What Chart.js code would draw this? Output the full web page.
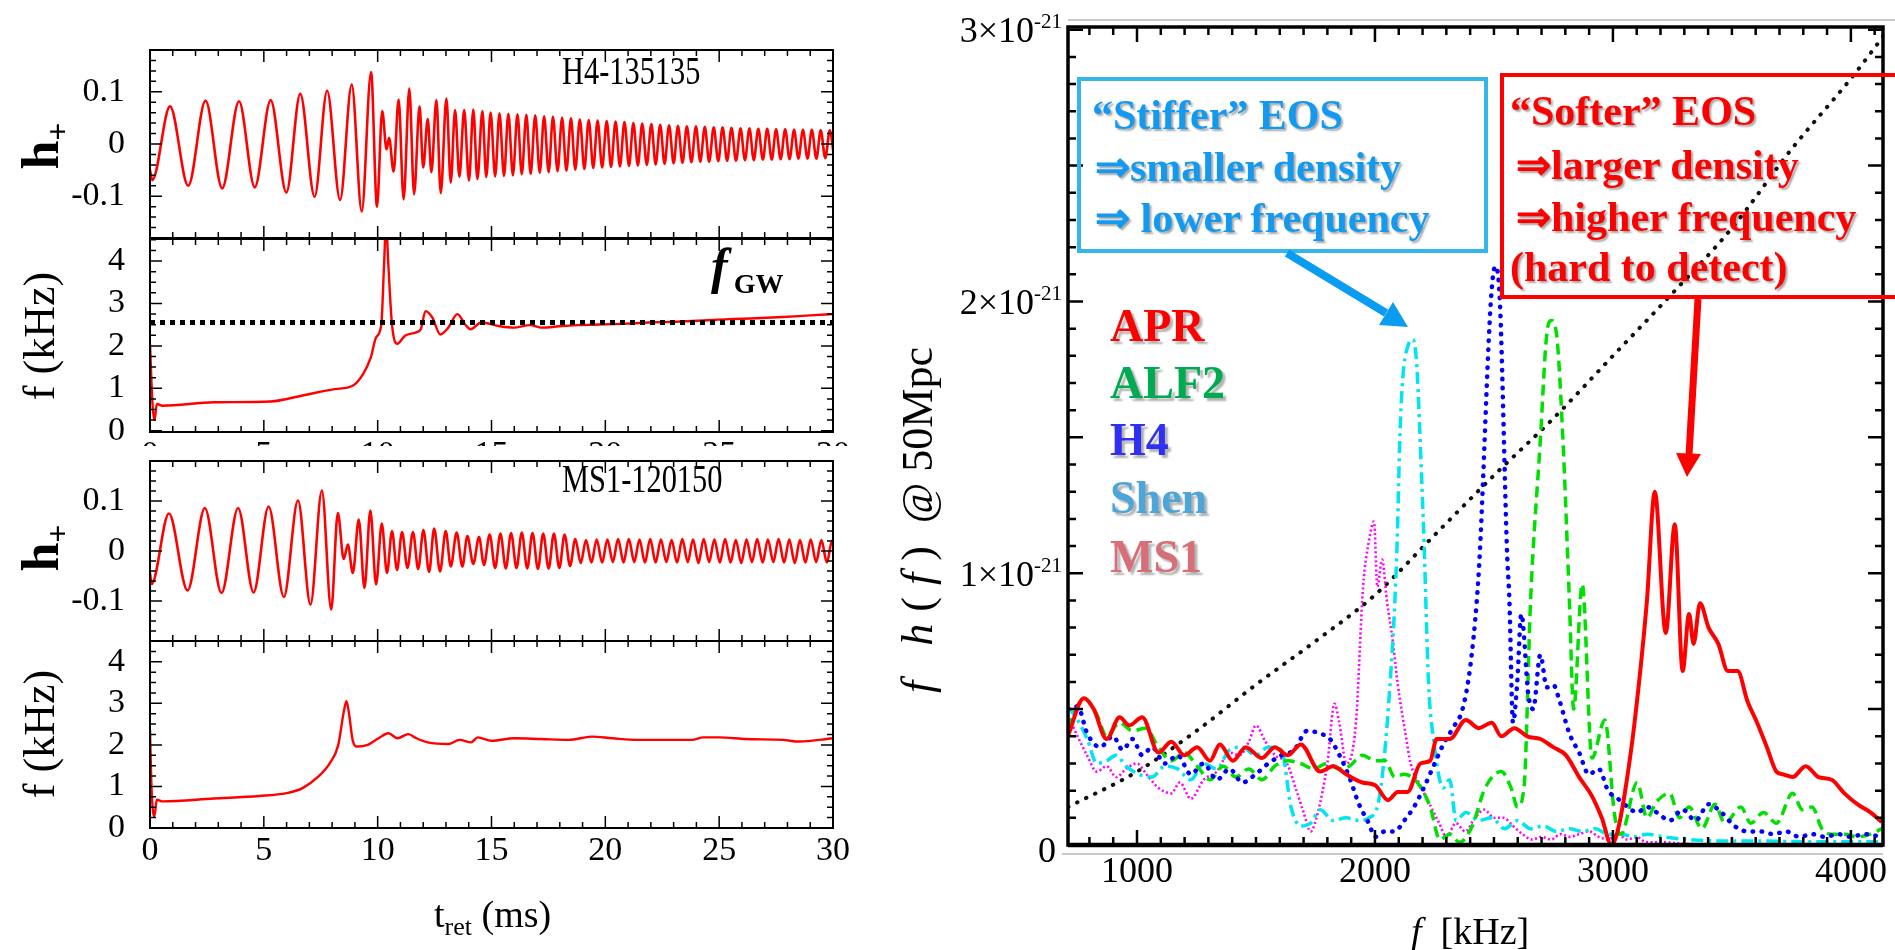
<!DOCTYPE html>
<html lang="en">
<head>
<meta charset="UTF-8">
<title>GW waveforms and spectra</title>
<script src="https://cdn.jsdelivr.net/npm/chart.js"></script>
<style>
  html, body { margin: 0; padding: 0; background: #fff; }
  body { width: 1895px; height: 950px; position: relative; overflow: hidden; font-family: "Liberation Serif", "Times New Roman", serif; }
  .panel { position: absolute; }
  .lbl { position: absolute; white-space: nowrap; line-height: 1; }
  .rot { transform: translate(-50%, -50%) rotate(-90deg); }
  .note { font-weight: bold; font-size: 42px; }
  .blue { color: #139af0; text-shadow: 2px 2px 2px rgba(0,0,0,0.35); }
  .red { color: #ff0000; text-shadow: 2px 2px 2px rgba(0,0,0,0.35); }
  .leg { font-weight: bold; font-size: 46px; text-shadow: 3px 3px 2px rgba(0,0,0,0.3); }
  sub { font-size: 0.6em; vertical-align: -0.3em; }
</style>
</head>
<body>

<div class="panel" style="left:0;top:0;width:850px;height:240px"><canvas id="p1"></canvas></div>
<div class="panel" style="left:0;top:236px;width:850px;height:230px"><canvas id="p2"></canvas></div>
<div class="panel" style="left:0;top:446px;width:850px;height:196px;background:#fff"><canvas id="p3"></canvas></div>
<div class="panel" style="left:0;top:636px;width:850px;height:314px"><canvas id="p4"></canvas></div>
<div class="panel" style="left:850px;top:0;width:1045px;height:950px"><canvas id="spec"></canvas></div>

<!-- left side titles -->
<div class="lbl rot" style="left:44px;top:146px;font-size:52px;font-weight:bold">h<sub style="font-size:32px">+</sub></div>
<div class="lbl rot" style="left:40px;top:336px;font-size:44px">f (kHz)</div>
<div class="lbl rot" style="left:44px;top:548px;font-size:52px;font-weight:bold">h<sub style="font-size:32px">+</sub></div>
<div class="lbl rot" style="left:40px;top:734px;font-size:44px">f (kHz)</div>
<div class="lbl" style="left:434px;top:895px;font-size:38px">t<sub style="font-size:26px">ret</sub> (ms)</div>
<div class="lbl" style="left:562px;top:51px;font-size:40px;transform:scaleX(0.76);transform-origin:0 0">H4-135135</div>
<div class="lbl" style="left:562px;top:459px;font-size:40px;transform:scaleX(0.76);transform-origin:0 0">MS1-120150</div>
<div class="lbl" style="left:711px;top:241px;font-size:50px;font-weight:bold;font-style:italic">f<span style="font-size:28px;font-style:normal;margin-left:6px;position:relative;top:10px">GW</span></div>

<!-- right side titles -->
<div class="lbl rot" style="left:918px;top:520px;font-size:44px"><span style="letter-spacing:12px"><i>f h</i>(<i>f</i>)</span> @ 50Mpc</div>
<div class="lbl" style="left:1411px;top:912px;font-size:38px"><i>f</i>&nbsp; [kHz]</div>

<div class="lbl leg" style="left:1110px;top:303px;color:#ff0000">APR</div>
<div class="lbl leg" style="left:1110px;top:360px;color:#00aa50">ALF2</div>
<div class="lbl leg" style="left:1110px;top:417px;color:#3030f0">H4</div>
<div class="lbl leg" style="left:1110px;top:475px;color:#4ea6d8">Shen</div>
<div class="lbl leg" style="left:1110px;top:534px;color:#d86e78">MS1</div>

<div style="position:absolute;left:1077px;top:77px;width:411px;height:176px;border:4px solid #35b6ea;box-sizing:border-box"></div>
<div class="lbl note blue" style="left:1092px;top:94px">“Stiffer” EOS</div>
<div class="lbl note blue" style="left:1095px;top:146px">⇒smaller density</div>
<div class="lbl note blue" style="left:1095px;top:197px">⇒ lower frequency</div>

<div style="position:absolute;left:1500px;top:73px;width:420px;height:226px;border:4px solid #ff0000;box-sizing:border-box"></div>
<div class="lbl note red" style="left:1510px;top:90px">“Softer” EOS</div>
<div class="lbl note red" style="left:1516px;top:144px">⇒larger density</div>
<div class="lbl note red" style="left:1516px;top:196px">⇒higher frequency</div>
<div class="lbl note red" style="left:1510px;top:246px">(hard to detect)</div>

<svg width="1895" height="950" style="position:absolute;left:0;top:0;pointer-events:none">
  <line x1="1287" y1="253" x2="1386" y2="313" stroke="#0a9cf0" stroke-width="8"/>
  <polygon points="1408,327 1379,325 1393,302" fill="#0a9cf0"/>
  <line x1="1698" y1="299" x2="1689" y2="455" stroke="#ff0000" stroke-width="7"/>
  <polygon points="1687,477 1676,453 1701,454" fill="#ff0000"/>
</svg>

<script>
// ---- data: time series (t in ms) ----
const timeTicks = [0, 5, 10, 15, 20, 25, 30];
const strainTicks = [-0.1, 0, 0.1];
const freqKHzTicks = [0, 1, 2, 3, 4];
const fGW = 2.55;

// H4-135135 h+ (extrema)
const h4Wave = [
  [0, -0.050], [0.10, -0.069], [0.88, 0.072], [1.68, -0.080], [2.44, 0.083], [3.17, -0.085],
  [3.91, 0.082], [4.60, -0.083], [5.30, 0.084], [5.99, -0.093], [6.60, 0.096], [7.23, -0.101],
  [7.78, 0.102], [8.35, -0.107], [8.86, 0.114], [9.30, -0.129], [9.71, 0.138], [9.97, -0.120],
  [10.20, 0.063], [10.39, -0.010], [10.50, 0.012], [10.70, -0.053], [10.92, 0.085], [11.14, -0.106],
  [11.39, 0.106], [11.60, -0.096], [11.84, 0.072], [12.00, -0.045], [12.20, 0.048], [12.36, -0.054],
  [12.58, 0.084], [12.77, -0.094], [13.02, 0.087], [13.21, -0.074], [13.40, 0.065], [13.59, -0.063],
  [13.80, 0.065], [14.01, -0.070], [14.20, 0.066], [14.38, -0.067], [14.60, 0.063], [14.77, -0.063],
  [14.96, 0.060], [15.16, -0.062], [15.35, 0.059], [15.55, -0.061], [15.74, 0.058], [15.94, -0.060],
  [16.14, 0.057], [16.33, -0.058], [16.53, 0.056], [16.72, -0.057], [16.92, 0.055], [17.12, -0.055],
  [17.31, 0.053], [17.51, -0.054], [17.70, 0.052], [17.90, -0.052], [18.10, 0.050], [18.29, -0.051],
  [18.49, 0.049], [18.68, -0.049], [18.88, 0.047], [19.08, -0.048], [19.27, 0.046], [19.47, -0.046],
  [19.66, 0.045], [19.86, -0.045], [20.06, 0.044], [20.25, -0.044], [20.45, 0.043], [20.64, -0.043],
  [20.84, 0.042], [21.04, -0.042], [21.23, 0.040], [21.43, -0.041], [21.62, 0.039], [21.82, -0.040],
  [22.02, 0.038], [22.21, -0.039], [22.41, 0.037], [22.60, -0.038], [22.80, 0.036], [23.00, -0.037],
  [23.19, 0.035], [23.39, -0.036], [23.58, 0.034], [23.78, -0.035], [23.98, 0.034], [24.17, -0.034],
  [24.37, 0.033], [24.56, -0.034], [24.76, 0.032], [24.96, -0.033], [25.15, 0.032], [25.35, -0.032],
  [25.54, 0.031], [25.74, -0.032], [25.94, 0.030], [26.13, -0.031], [26.33, 0.030], [26.52, -0.031],
  [26.72, 0.029], [26.92, -0.030], [27.11, 0.029], [27.31, -0.030], [27.50, 0.028], [27.70, -0.029],
  [27.90, 0.028], [28.09, -0.029], [28.29, 0.027], [28.48, -0.028], [28.68, 0.027], [28.88, -0.028],
  [29.07, 0.027], [29.27, -0.028], [29.46, 0.026], [29.66, -0.027], [29.86, 0.026], [30.05, -0.027]
];

// H4-135135 GW frequency (kHz)
const h4Freq = [
  [0, 2.05], [0.11, 0.63], [0.2, 0.25], [0.3, 0.63], [0.55, 0.59], [2.8, 0.67], [5.3, 0.69],
  [6.7, 0.83], [8.1, 0.98], [8.9, 1.06], [9.35, 1.33], [9.7, 1.73], [9.93, 2.2], [10.16, 2.5],
  [10.28, 3.9], [10.37, 4.9], [10.47, 3.9], [10.63, 2.5], [10.86, 2.05], [11.2, 2.24], [11.69, 2.32],
  [11.9, 2.4], [12.1, 2.82], [12.4, 2.67], [12.75, 2.27], [13.1, 2.43], [13.5, 2.75], [13.85, 2.5],
  [14.08, 2.39], [14.55, 2.55], [15.3, 2.47], [15.98, 2.43], [16.7, 2.49], [17.2, 2.43], [18.1, 2.47],
  [18.8, 2.49], [19.5, 2.5], [20.7, 2.52], [21.9, 2.55], [23.1, 2.57], [24.3, 2.6], [25.4, 2.63],
  [26.6, 2.65], [27.8, 2.68], [29.0, 2.72], [30, 2.75]
];

// MS1-120150 h+ (extrema)
const ms1Wave = [
  [0, -0.044], [0.07, -0.066], [0.83, 0.075], [1.65, -0.079], [2.41, 0.086], [3.14, -0.084],
  [3.87, 0.086], [4.55, -0.083], [5.21, 0.089], [5.88, -0.092], [6.50, 0.101], [7.05, -0.107],
  [7.55, 0.121], [7.96, -0.117], [8.25, 0.076], [8.51, -0.016], [8.69, 0.013], [8.91, -0.044],
  [9.17, 0.063], [9.42, -0.074], [9.68, 0.081], [9.93, -0.067], [10.18, 0.055], [10.41, -0.044],
  [10.63, 0.040], [10.85, -0.038], [11.07, 0.038], [11.31, -0.034], [11.55, 0.038], [11.78, -0.036],
  [12.01, 0.042], [12.26, -0.042], [12.48, 0.045], [12.74, -0.041], [12.99, 0.040], [13.21, -0.031],
  [13.47, 0.037], [13.72, -0.031], [13.94, 0.030], [14.20, -0.026], [14.45, 0.028], [14.67, -0.028],
  [14.92, 0.033], [15.16, -0.034], [15.39, 0.035], [15.63, -0.035], [15.86, 0.036], [16.10, -0.034],
  [16.33, 0.037], [16.57, -0.035], [16.80, 0.036], [17.04, -0.036], [17.27, 0.035], [17.51, -0.035],
  [17.74, 0.035], [17.98, -0.034], [18.21, 0.033], [18.45, -0.030], [18.68, 0.024], [18.92, -0.024],
  [19.15, 0.022], [19.39, -0.023], [19.62, 0.023], [19.86, -0.023], [20.09, 0.023], [20.33, -0.022],
  [20.56, 0.024], [20.80, -0.023], [21.03, 0.024], [21.27, -0.022], [21.50, 0.023], [21.74, -0.023],
  [21.97, 0.024], [22.21, -0.023], [22.44, 0.023], [22.68, -0.022], [22.91, 0.022], [23.15, -0.023],
  [23.38, 0.024], [23.62, -0.022], [23.85, 0.023], [24.09, -0.024], [24.32, 0.024], [24.56, -0.022],
  [24.79, 0.023], [25.03, -0.023], [25.26, 0.024], [25.50, -0.023], [25.73, 0.022], [25.97, -0.024],
  [26.20, 0.023], [26.44, -0.022], [26.67, 0.024], [26.91, -0.023], [27.14, 0.023], [27.38, -0.022],
  [27.61, 0.024], [27.85, -0.023], [28.08, 0.023], [28.32, -0.024], [28.55, 0.022], [28.79, -0.023],
  [29.02, 0.023], [29.26, -0.022], [29.49, 0.022], [29.73, -0.023], [29.96, 0.021], [30.10, 0.0]
];

// MS1-120150 GW frequency (kHz)
const ms1Freq = [
  [0, 2.36], [0.07, 0.92], [0.19, 0.28], [0.3, 0.68], [0.55, 0.64], [2.8, 0.71], [4.8, 0.77],
  [6.0, 0.84], [6.7, 0.96], [7.4, 1.24], [7.9, 1.56], [8.27, 2.0], [8.5, 2.76], [8.63, 3.05],
  [8.74, 2.76], [8.9, 2.12], [9.1, 1.96], [9.56, 2.0], [10.04, 2.16], [10.47, 2.28], [10.87, 2.16],
  [11.35, 2.26], [11.7, 2.16], [12.2, 2.06], [13.1, 2.02], [13.6, 2.12], [14.1, 2.06], [14.4, 2.18],
  [15.0, 2.1], [16.0, 2.16], [17.2, 2.14], [18.4, 2.12], [19.4, 2.2], [20.3, 2.16], [21.4, 2.12],
  [22.6, 2.12], [23.8, 2.12], [24.3, 2.18], [25.0, 2.18], [26.2, 2.14], [27.8, 2.12], [28.5, 2.08],
  [30, 2.16]
];

// ---- data: spectra, f [kHz] vs f h(f) in units of 1e-21 ----
const specFreqTicks = [1000, 2000, 3000, 4000];
const specAmpTicks = [0, 1, 2, 3];

const aprSpec = [
  [709, 0.40], [777, 0.54], [818, 0.50], [872, 0.39], [927, 0.47], [967, 0.44], [1022, 0.47],
  [1090, 0.34], [1144, 0.38], [1199, 0.33], [1253, 0.36], [1307, 0.31], [1348, 0.37], [1403, 0.31],
  [1457, 0.36], [1525, 0.32], [1579, 0.36], [1634, 0.33], [1688, 0.37], [1770, 0.27], [1824, 0.29],
  [1879, 0.26], [1947, 0.23], [2001, 0.22], [2055, 0.165], [2096, 0.195], [2137, 0.195], [2191, 0.30],
  [2232, 0.31], [2259, 0.39], [2314, 0.39], [2382, 0.46], [2436, 0.43], [2491, 0.45], [2531, 0.40],
  [2586, 0.43], [2640, 0.40], [2695, 0.39], [2749, 0.36], [2803, 0.33], [2858, 0.25], [2912, 0.18],
  [2953, 0.10], [2994, 0.0], [3021, 0.055], [3075, 0.34], [3116, 0.65], [3143, 0.90], [3176, 1.30],
  [3222, 0.78], [3260, 1.18], [3293, 0.64], [3320, 0.85], [3339, 0.74], [3366, 0.89], [3402, 0.80],
  [3443, 0.74], [3483, 0.64], [3524, 0.64], [3565, 0.53], [3606, 0.45], [3647, 0.36], [3687, 0.27],
  [3715, 0.26], [3755, 0.25], [3810, 0.29], [3864, 0.25], [3919, 0.24], [3973, 0.19], [4027, 0.15],
  [4082, 0.12], [4130, 0.085]
];

const alf2Spec = [
  [709, 0.43], [777, 0.54], [831, 0.48], [872, 0.40], [927, 0.45], [981, 0.42], [1035, 0.43],
  [1090, 0.36], [1144, 0.31], [1199, 0.34], [1253, 0.29], [1307, 0.24], [1362, 0.29], [1416, 0.25],
  [1470, 0.28], [1525, 0.24], [1579, 0.29], [1634, 0.31], [1688, 0.30], [1742, 0.28], [1797, 0.30],
  [1851, 0.28], [1892, 0.29], [1947, 0.33], [2001, 0.31], [2042, 0.31], [2083, 0.25], [2123, 0.26],
  [2178, 0.23], [2232, 0.14], [2273, 0.02], [2314, 0.04], [2355, 0.01], [2409, 0.07], [2463, 0.21],
  [2531, 0.27], [2572, 0.21], [2599, 0.14], [2627, 0.22], [2654, 0.90], [2695, 1.49], [2722, 1.88],
  [2741, 1.93], [2763, 1.88], [2790, 1.49], [2817, 0.90], [2835, 0.50], [2871, 0.96], [2912, 0.32],
  [2966, 0.46], [3007, 0.11], [3034, 0.04], [3102, 0.23], [3143, 0.10], [3184, 0.16], [3239, 0.19],
  [3279, 0.10], [3320, 0.14], [3374, 0.06], [3429, 0.15], [3470, 0.08], [3538, 0.14], [3579, 0.08],
  [3633, 0.12], [3687, 0.08], [3755, 0.19], [3796, 0.13], [3837, 0.14], [3878, 0.06], [3919, 0.04],
  [3973, 0.04], [4027, 0.03], [4082, 0.04], [4130, 0.06]
];

const h4Spec = [
  [709, 0.50], [750, 0.51], [791, 0.41], [845, 0.36], [899, 0.40], [940, 0.35], [981, 0.39],
  [1022, 0.33], [1063, 0.36], [1117, 0.30], [1171, 0.33], [1226, 0.26], [1280, 0.30], [1335, 0.24],
  [1389, 0.28], [1443, 0.23], [1498, 0.26], [1552, 0.30], [1607, 0.33], [1661, 0.35], [1715, 0.42],
  [1770, 0.41], [1811, 0.39], [1851, 0.33], [1892, 0.25], [1933, 0.15], [1974, 0.08], [2001, 0.03],
  [2042, 0.05], [2083, 0.05], [2123, 0.09], [2164, 0.14], [2205, 0.21], [2246, 0.29], [2287, 0.37],
  [2327, 0.43], [2368, 0.50], [2401, 0.66], [2428, 0.90], [2441, 1.08], [2487, 2.00], [2506, 2.13],
  [2525, 2.00], [2555, 1.08], [2565, 0.90], [2580, 0.45], [2598, 0.60], [2615, 0.85], [2645, 0.55],
  [2665, 0.50], [2695, 0.70], [2722, 0.58], [2749, 0.59], [2776, 0.53], [2817, 0.41], [2858, 0.34],
  [2899, 0.26], [2940, 0.28], [2980, 0.20], [3021, 0.17], [3062, 0.14], [3102, 0.12], [3143, 0.14],
  [3184, 0.12], [3239, 0.09], [3293, 0.13], [3347, 0.09], [3402, 0.15], [3456, 0.12], [3511, 0.07],
  [3565, 0.05], [3619, 0.05], [3674, 0.04], [3728, 0.05], [3783, 0.03], [3837, 0.04], [3892, 0.03],
  [3946, 0.04], [4000, 0.03], [4055, 0.04], [4130, 0.03]
];

const shenSpec = [
  [709, 0.51], [750, 0.46], [791, 0.39], [831, 0.30], [872, 0.31], [913, 0.33], [954, 0.29],
  [1008, 0.26], [1063, 0.25], [1117, 0.29], [1171, 0.28], [1226, 0.24], [1280, 0.30], [1335, 0.28],
  [1389, 0.35], [1443, 0.36], [1498, 0.33], [1552, 0.36], [1607, 0.35], [1647, 0.14], [1688, 0.07],
  [1729, 0.08], [1770, 0.13], [1824, 0.09], [1879, 0.10], [1933, 0.09], [1974, 0.10], [2015, 0.16],
  [2060, 0.55], [2092, 1.08], [2105, 1.51], [2117, 1.72], [2140, 1.84], [2160, 1.86], [2176, 1.76],
  [2197, 1.33], [2206, 1.12], [2225, 0.60], [2246, 0.39], [2287, 0.21], [2314, 0.24], [2341, 0.09],
  [2382, 0.12], [2436, 0.09], [2491, 0.10], [2545, 0.06], [2599, 0.09], [2654, 0.06], [2708, 0.07],
  [2763, 0.05], [2817, 0.06], [2871, 0.05], [2926, 0.06], [2980, 0.04], [3034, 0.04], [3089, 0.03],
  [3143, 0.04], [3211, 0.03], [3320, 0.02], [3450, 0.015], [3600, 0.015], [3800, 0.012], [4000, 0.012],
  [4130, 0.012]
];

const ms1Spec = [
  [709, 0.48], [750, 0.40], [790, 0.33], [831, 0.27], [872, 0.29], [913, 0.25], [954, 0.28],
  [1000, 0.30], [1040, 0.26], [1090, 0.21], [1144, 0.19], [1180, 0.23], [1226, 0.17], [1280, 0.24],
  [1335, 0.27], [1389, 0.34], [1430, 0.33], [1470, 0.38], [1500, 0.44], [1540, 0.38], [1580, 0.33],
  [1630, 0.30], [1670, 0.20], [1700, 0.12], [1730, 0.05], [1760, 0.12], [1800, 0.30], [1830, 0.52],
  [1850, 0.45], [1880, 0.30], [1920, 0.45], [1950, 0.95], [1975, 1.12], [1996, 1.19], [2010, 0.95],
  [2030, 1.05], [2050, 0.90], [2075, 0.75], [2096, 0.59], [2130, 0.40], [2150, 0.30], [2190, 0.22],
  [2230, 0.15], [2270, 0.08], [2300, 0.03], [2340, 0.08], [2380, 0.05], [2420, 0.10], [2460, 0.13],
  [2500, 0.10], [2540, 0.10], [2580, 0.07], [2620, 0.04], [2660, 0.02], [2700, 0.03], [2740, 0.02],
  [2780, 0.04], [2820, 0.03], [2860, 0.04], [2900, 0.05], [2940, 0.03], [2980, 0.02], [3020, 0.04],
  [3060, 0.02], [3100, 0.03], [3140, 0.01], [3200, 0.01], [3300, 0.005], [3400, 0.0]
];

// detector noise curve (black dotted)
const noiseCurve = [
  [710, 0.14], [1000, 0.27], [1250, 0.42], [1500, 0.59], [1750, 0.75], [2000, 0.92], [2250, 1.14],
  [2500, 1.36], [2750, 1.57], [3000, 1.80], [3250, 2.03], [3500, 2.27], [3750, 2.56], [4000, 2.82],
  [4140, 2.98]
];

// ---- helpers ----
function steps(scale, step) {
  const out = [];
  const n0 = Math.ceil(scale.min / step - 1e-6), n1 = Math.floor(scale.max / step + 1e-6);
  for (let k = n0; k <= n1; k++) out.push(+(k * step).toFixed(6));
  return out;
}
function isMajor(v, major) {
  const r = v / major;
  return Math.abs(r - Math.round(r)) < 1e-6;
}

// frame with inward ticks on all four sides, plus tick labels
function framePlugin(cfg) {
  return {
    id: 'frame',
    afterDatasetsDraw(chart) {
      const ctx = chart.ctx, a = chart.chartArea;
      const sx = chart.scales.x, sy = chart.scales.y;
      ctx.save();
      ctx.strokeStyle = '#000';
      ctx.lineWidth = cfg.tickWidth;
      ctx.beginPath();
      steps(sx, cfg.xMinor).forEach(v => {
        const px = sx.getPixelForValue(v);
        const len = isMajor(v, cfg.xMajor) ? cfg.majorLen : cfg.minorLen;
        ctx.moveTo(px, a.bottom); ctx.lineTo(px, a.bottom - len);
        ctx.moveTo(px, a.top); ctx.lineTo(px, a.top + len);
      });
      steps(sy, cfg.yMinor).forEach(v => {
        const py = sy.getPixelForValue(v);
        const len = isMajor(v, cfg.yMajor) ? cfg.majorLen : cfg.minorLen;
        ctx.moveTo(a.left, py); ctx.lineTo(a.left + len, py);
        ctx.moveTo(a.right, py); ctx.lineTo(a.right - len, py);
      });
      ctx.stroke();
      ctx.lineWidth = cfg.frameWidth;
      ctx.strokeRect(a.left, a.top, a.right - a.left, a.bottom - a.top);
      if (cfg.extra) cfg.extra(ctx, a, chart);

      ctx.fillStyle = '#000';
      ctx.font = cfg.font;
      ctx.textBaseline = 'middle';
      ctx.textAlign = 'center';
      cfg.xLabels.forEach(v => ctx.fillText(String(v), sx.getPixelForValue(v), a.bottom + cfg.xGap));
      ctx.textAlign = 'right';
      cfg.yLabels.forEach(v => {
        const py = sy.getPixelForValue(v);
        if (cfg.yLabelDraw) cfg.yLabelDraw(ctx, a, v, py);
        else ctx.fillText(String(v), a.left - cfg.yGap, py);
      });
      ctx.restore();
    }
  };
}

function series(points, color, width, dash, cap) {
  return {
    data: points.map(p => ({ x: p[0], y: p[1] })),
    borderColor: color,
    borderWidth: width,
    borderDash: dash || [],
    borderCapStyle: cap || 'butt',
    borderJoinStyle: 'round',
    pointRadius: 0,
    fill: false,
    cubicInterpolationMode: 'monotone'
  };
}

function makeChart(id, datasets, xr, yr, pad, frame) {
  return new Chart(document.getElementById(id), {
    type: 'line',
    data: { datasets },
    options: {
      responsive: true,
      maintainAspectRatio: false,
      animation: false,
      devicePixelRatio: 1,
      layout: { padding: pad },
      plugins: { legend: { display: false }, tooltip: { enabled: false } },
      scales: {
        x: { type: 'linear', min: xr[0], max: xr[1], display: false },
        y: { type: 'linear', min: yr[0], max: yr[1], display: false }
      }
    },
    plugins: [framePlugin(frame)]
  });
}

const leftFont = '34px "Liberation Serif"';
const leftPad = { left: 150, right: 17 };

function leftFrame(xLabels, yLabels, yMinor, yMajor) {
  return {
    xMinor: 1, xMajor: 5, yMinor, yMajor,
    majorLen: 12, minorLen: 6, tickWidth: 1.5, frameWidth: 2,
    font: leftFont, xLabels, yLabels, xGap: 23, yGap: 25
  };
}

// panel 1: H4 waveform
makeChart('p1', [series(h4Wave, '#ff0000', 2.6)], [0, 30], [-0.18, 0.18],
  { ...leftPad, top: 50, bottom: 2 }, leftFrame([], strainTicks, 0.02, 0.1));

// panel 2: H4 frequency with f_GW line
makeChart('p2', [
  series([[0, fGW], [30, fGW]], '#000', 5, [5, 5]),
  series(h4Freq, '#ff0000', 2.4)
], [0, 30], [-0.03, 4.52], { ...leftPad, top: 3, bottom: 34 }, leftFrame(timeTicks, freqKHzTicks, 0.25, 1));

// panel 3: MS1 waveform
makeChart('p3', [series(ms1Wave, '#ff0000', 2.6)], [0, 30], [-0.18, 0.18],
  { ...leftPad, top: 15, bottom: 1 }, leftFrame([], strainTicks, 0.02, 0.1));

// panel 4: MS1 frequency
makeChart('p4', [series(ms1Freq, '#ff0000', 2.4)], [0, 30], [0, 4.5],
  { ...leftPad, top: 5, bottom: 122 }, leftFrame(timeTicks, freqKHzTicks, 0.25, 1));

// right: spectra
function ampLabel(ctx, a, v, py) {
  const x = a.left - 6;
  if (v === 0) {
    ctx.font = '36px "Liberation Serif"';
    ctx.fillText('0', a.left - 12, py + 8);
    return;
  }
  ctx.font = '21px "Liberation Serif"';
  const sup = '-21';
  const sw = ctx.measureText(sup).width;
  ctx.fillText(sup, x, py - 7);
  ctx.font = '36px "Liberation Serif"';
  ctx.fillText(v + '×10', x - sw, py + 3);
}

makeChart('spec', [
  series(aprSpec, '#ff0000', 4),
  series(h4Spec, '#0000ff', 4.5, [0.5, 8.5], 'round'),
  series(alf2Spec, '#00e000', 3.5, [11, 6]),
  series(shenSpec, '#00e5f0', 3.5, [12, 5, 3, 5]),
  series(ms1Spec, '#ff00ff', 2.6, [2, 2.5]),
  series(noiseCurve, '#111', 4, [0.5, 9.5], 'round')
], [710, 4135], [0, 3.01], { left: 218, right: 12, top: 27, bottom: 105 }, {
  xMinor: 100, xMajor: 1000, yMinor: 0.1, yMajor: 0.5,
  majorLen: 15, minorLen: 8, tickWidth: 2.5, frameWidth: 3.5,
  font: '36px "Liberation Serif"', xLabels: specFreqTicks, yLabels: specAmpTicks,
  xGap: 28, yGap: 8, yLabelDraw: ampLabel,
  extra(ctx, a, chart) {
    ctx.strokeStyle = '#c8c8c8';
    ctx.lineWidth = 2;
    ctx.beginPath();
    ctx.moveTo(a.left, a.top - 7); ctx.lineTo(chart.width, a.top - 7);
    ctx.moveTo(a.left - 6, a.bottom + 9); ctx.lineTo(a.right, a.bottom + 9);
    ctx.stroke();
    ctx.strokeStyle = '#000';
    ctx.lineWidth = 4.5;
    ctx.beginPath();
    ctx.moveTo(a.left, a.bottom); ctx.lineTo(a.right, a.bottom);
    ctx.stroke();
  }
});
</script>
</body>
</html>
